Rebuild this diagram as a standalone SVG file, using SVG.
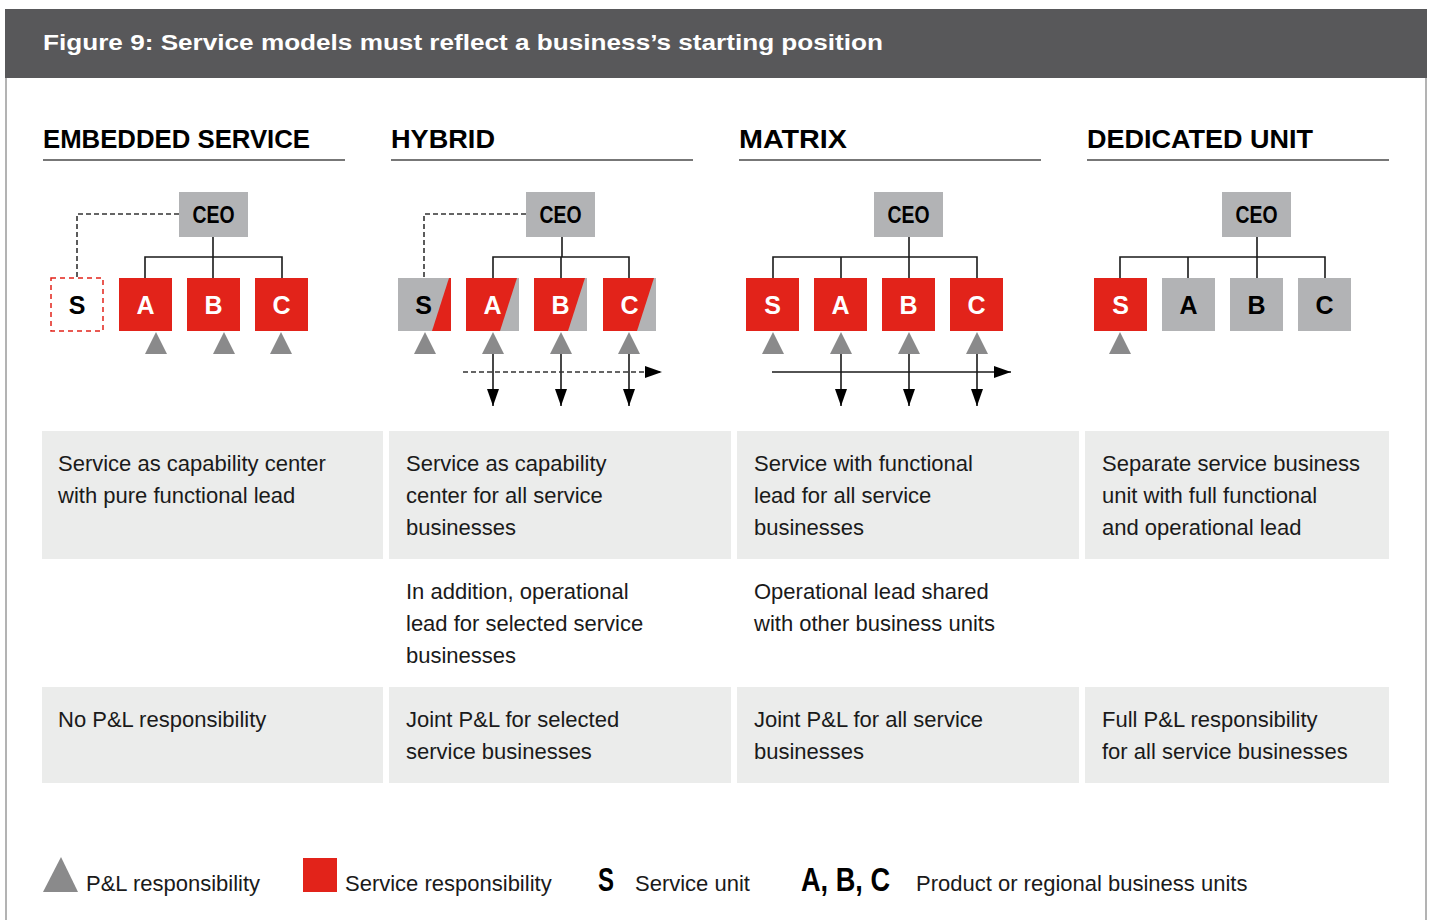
<svg xmlns="http://www.w3.org/2000/svg" width="1434" height="920" viewBox="0 0 1434 920">
<defs>
<style>
.title{font-family:"Liberation Sans",Arial,sans-serif;font-weight:bold;font-size:22px;fill:#ffffff}
.head{font-family:"Liberation Sans",Arial,sans-serif;font-weight:bold;font-size:26px;fill:#000}
.body{font-family:"Liberation Sans",Arial,sans-serif;font-size:22px;fill:#1a1a1a}
.lbl{font-family:"Liberation Sans",Arial,sans-serif;font-weight:bold;font-size:25px;text-anchor:middle}
.ceo{font-family:"Liberation Sans",Arial,sans-serif;font-weight:bold;font-size:23px;text-anchor:middle;fill:#000}
.red{fill:#e2231a}
.grey{fill:#b2b3b5}
.tri{fill:#8a8a8b}
.bg{fill:#ebeceb}
.ln{stroke:#1a1a1a;stroke-width:1.6;fill:none}
.dash{stroke:#333;stroke-width:1.6;fill:none;stroke-dasharray:5 3}
.ul{stroke:#4a4a4a;stroke-width:1.6}
</style>
<marker id="ah" viewBox="0 0 17 12" refX="17" refY="6" markerWidth="17" markerHeight="12" markerUnits="userSpaceOnUse" orient="auto">
<path d="M0,0 L17,6 L0,12 Z" fill="#000"/>
</marker>
</defs>
<rect width="1434" height="920" fill="#fff"/>
<!-- frame -->
<rect x="5" y="9" width="1422" height="69" fill="#58585a"/>
<line x1="6" y1="78" x2="6" y2="920" stroke="#9a9a9a" stroke-width="1.5"/>
<line x1="1426" y1="78" x2="1426" y2="920" stroke="#9a9a9a" stroke-width="1.5"/>
<text class="title" x="43" y="50" textLength="840" lengthAdjust="spacingAndGlyphs">Figure 9: Service models must reflect a business’s starting position</text>

<!-- column headers -->
<g id="headers">
<text class="head" x="43" y="148" textLength="267" lengthAdjust="spacingAndGlyphs">EMBEDDED SERVICE</text>
<line class="ul" x1="43" y1="160" x2="345" y2="160"/>
<text class="head" x="391" y="148" textLength="104" lengthAdjust="spacingAndGlyphs">HYBRID</text>
<line class="ul" x1="391" y1="160" x2="693" y2="160"/>
<text class="head" x="739" y="148" textLength="108" lengthAdjust="spacingAndGlyphs">MATRIX</text>
<line class="ul" x1="739" y1="160" x2="1041" y2="160"/>
<text class="head" x="1087" y="148" textLength="226" lengthAdjust="spacingAndGlyphs">DEDICATED UNIT</text>
<line class="ul" x1="1087" y1="160" x2="1389" y2="160"/>
</g>

<!-- connectors -->
<g id="connectors">
<!-- embedded -->
<path class="ln" d="M213,237 V257 M145,278 V257 H282 V278 M213,257 V278"/>
<path class="dash" d="M179,214 H77 V278"/>
<!-- hybrid -->
<path class="ln" d="M562,237 V257 M493,278 V257 H629 V278 M561,257 V278"/>
<path class="dash" d="M526,214 H424 V278"/>
<line class="ln" x1="493" y1="354" x2="493" y2="406" marker-end="url(#ah)"/>
<line class="ln" x1="561" y1="354" x2="561" y2="406" marker-end="url(#ah)"/>
<line class="ln" x1="629" y1="354" x2="629" y2="406" marker-end="url(#ah)"/>
<line class="dash" x1="463" y1="372" x2="662" y2="372" marker-end="url(#ah)"/>
<!-- matrix -->
<path class="ln" d="M909,237 V257 M773,278 V257 H977 V278 M841,257 V278 M909,257 V278"/>
<line class="ln" x1="841" y1="354" x2="841" y2="406" marker-end="url(#ah)"/>
<line class="ln" x1="909" y1="354" x2="909" y2="406" marker-end="url(#ah)"/>
<line class="ln" x1="977" y1="354" x2="977" y2="406" marker-end="url(#ah)"/>
<line class="ln" x1="772" y1="372" x2="1011" y2="372" marker-end="url(#ah)"/>
<!-- dedicated -->
<path class="ln" d="M1257,237 V257 M1120,278 V257 H1325 V278 M1188,257 V278 M1257,257 V278"/>
</g>

<!-- EMBEDDED -->
<g id="emb-ceo"><rect class="grey" x="179" y="192" width="69" height="45"/><text class="ceo" x="213.5" y="223" textLength="42" lengthAdjust="spacingAndGlyphs">CEO</text></g>
<g id="emb-s"><rect x="51" y="278" width="52" height="53" fill="none" stroke="#e2231a" stroke-width="1.5" stroke-dasharray="5 4"/><text class="lbl" x="77" y="314" fill="#000">S</text></g>
<g id="emb-a"><rect class="red" x="119" y="278" width="53" height="53"/><text class="lbl" x="145.5" y="314" fill="#fff">A</text></g>
<g id="emb-b"><rect class="red" x="187" y="278" width="53" height="53"/><text class="lbl" x="213.5" y="314" fill="#fff">B</text></g>
<g id="emb-c"><rect class="red" x="255" y="278" width="53" height="53"/><text class="lbl" x="281.5" y="314" fill="#fff">C</text></g>
<g id="emb-pl">
<polygon class="tri" points="156,332 145,354 167,354"/>
<polygon class="tri" points="224,332 213,354 235,354"/>
<polygon class="tri" points="281,332 270,354 292,354"/>
</g>

<!-- HYBRID -->
<g id="hyb-ceo"><rect class="grey" x="526" y="192" width="69" height="45"/><text class="ceo" x="560.5" y="223" textLength="42" lengthAdjust="spacingAndGlyphs">CEO</text></g>
<g id="hyb-s"><rect class="grey" x="398" y="278" width="53" height="53"/><polygon class="red" points="449,278 451,278 451,331 432,331"/><text class="lbl" x="423.5" y="314" fill="#000">S</text></g>
<g id="hyb-a"><rect class="red" x="466" y="278" width="53" height="53"/><polygon class="grey" points="517,278 519,278 519,331 500,331"/><text class="lbl" x="492.5" y="314" fill="#fff">A</text></g>
<g id="hyb-b"><rect class="red" x="534" y="278" width="53" height="53"/><polygon class="grey" points="585,278 587,278 587,331 568,331"/><text class="lbl" x="560.5" y="314" fill="#fff">B</text></g>
<g id="hyb-c"><rect class="red" x="603" y="278" width="53" height="53"/><polygon class="grey" points="654,278 656,278 656,331 637,331"/><text class="lbl" x="629.5" y="314" fill="#fff">C</text></g>
<g id="hyb-pl">
<polygon class="tri" points="425,332 414,354 436,354"/>
<polygon class="tri" points="493,332 482,354 504,354"/>
<polygon class="tri" points="561,332 550,354 572,354"/>
<polygon class="tri" points="629,332 618,354 640,354"/>
</g>

<!-- MATRIX -->
<g id="mat-ceo"><rect class="grey" x="874" y="192" width="69" height="45"/><text class="ceo" x="908.5" y="223" textLength="42" lengthAdjust="spacingAndGlyphs">CEO</text></g>
<g id="mat-s"><rect class="red" x="746" y="278" width="53" height="53"/><text class="lbl" x="772.5" y="314" fill="#fff">S</text></g>
<g id="mat-a"><rect class="red" x="814" y="278" width="53" height="53"/><text class="lbl" x="840.5" y="314" fill="#fff">A</text></g>
<g id="mat-b"><rect class="red" x="882" y="278" width="53" height="53"/><text class="lbl" x="908.5" y="314" fill="#fff">B</text></g>
<g id="mat-c"><rect class="red" x="950" y="278" width="53" height="53"/><text class="lbl" x="976.5" y="314" fill="#fff">C</text></g>
<g id="mat-pl">
<polygon class="tri" points="773,332 762,354 784,354"/>
<polygon class="tri" points="841,332 830,354 852,354"/>
<polygon class="tri" points="909,332 898,354 920,354"/>
<polygon class="tri" points="977,332 966,354 988,354"/>
</g>

<!-- DEDICATED -->
<g id="ded-ceo"><rect class="grey" x="1222" y="192" width="69" height="45"/><text class="ceo" x="1256.5" y="223" textLength="42" lengthAdjust="spacingAndGlyphs">CEO</text></g>
<g id="ded-s"><rect class="red" x="1094" y="278" width="53" height="53"/><text class="lbl" x="1120.5" y="314" fill="#fff">S</text></g>
<g id="ded-a"><rect class="grey" x="1162" y="278" width="53" height="53"/><text class="lbl" x="1188.5" y="314" fill="#000">A</text></g>
<g id="ded-b"><rect class="grey" x="1230" y="278" width="53" height="53"/><text class="lbl" x="1256.5" y="314" fill="#000">B</text></g>
<g id="ded-c"><rect class="grey" x="1298" y="278" width="53" height="53"/><text class="lbl" x="1324.5" y="314" fill="#000">C</text></g>
<g id="ded-pl"><polygon class="tri" points="1120,332 1109,354 1131,354"/></g>

<!-- text rows -->
<g id="row1">
<rect class="bg" x="42" y="431" width="341" height="128"/>
<rect class="bg" x="389" y="431" width="342" height="128"/>
<rect class="bg" x="737" y="431" width="342" height="128"/>
<rect class="bg" x="1085" y="431" width="304" height="128"/>
<text class="body" x="58" y="471">Service as capability center</text>
<text class="body" x="58" y="503">with pure functional lead</text>
<text class="body" x="406" y="471">Service as capability</text>
<text class="body" x="406" y="503">center for all service</text>
<text class="body" x="406" y="535">businesses</text>
<text class="body" x="754" y="471">Service with functional</text>
<text class="body" x="754" y="503">lead for all service</text>
<text class="body" x="754" y="535">businesses</text>
<text class="body" x="1102" y="471">Separate service business</text>
<text class="body" x="1102" y="503">unit with full functional</text>
<text class="body" x="1102" y="535">and operational lead</text>
</g>
<g id="row2">
<text class="body" x="406" y="599">In addition, operational</text>
<text class="body" x="406" y="631">lead for selected service</text>
<text class="body" x="406" y="663">businesses</text>
<text class="body" x="754" y="599">Operational lead shared</text>
<text class="body" x="754" y="631">with other business units</text>
</g>
<g id="row3">
<rect class="bg" x="42" y="687" width="341" height="96"/>
<rect class="bg" x="389" y="687" width="342" height="96"/>
<rect class="bg" x="737" y="687" width="342" height="96"/>
<rect class="bg" x="1085" y="687" width="304" height="96"/>
<text class="body" x="58" y="727">No P&amp;L responsibility</text>
<text class="body" x="406" y="727">Joint P&amp;L for selected</text>
<text class="body" x="406" y="759">service businesses</text>
<text class="body" x="754" y="727">Joint P&amp;L for all service</text>
<text class="body" x="754" y="759">businesses</text>
<text class="body" x="1102" y="727">Full P&amp;L responsibility</text>
<text class="body" x="1102" y="759">for all service businesses</text>
</g>

<!-- legend -->
<g id="legend">
<polygon class="tri" points="61,857 43,892 78,892"/>
<text class="body" x="86" y="891">P&amp;L responsibility</text>
<rect class="red" x="303" y="858" width="34" height="34"/>
<text class="body" x="345" y="891">Service responsibility</text>
<text x="598" y="891" font-family="Liberation Sans, Arial, sans-serif" font-weight="bold" font-size="33" textLength="16" lengthAdjust="spacingAndGlyphs" fill="#000">S</text>
<text class="body" x="635" y="891">Service unit</text>
<text x="801" y="891" font-family="Liberation Sans, Arial, sans-serif" font-weight="bold" font-size="34" textLength="89" lengthAdjust="spacingAndGlyphs" fill="#000">A, B, C</text>
<text class="body" x="916" y="891">Product or regional business units</text>
</g>
</svg>
